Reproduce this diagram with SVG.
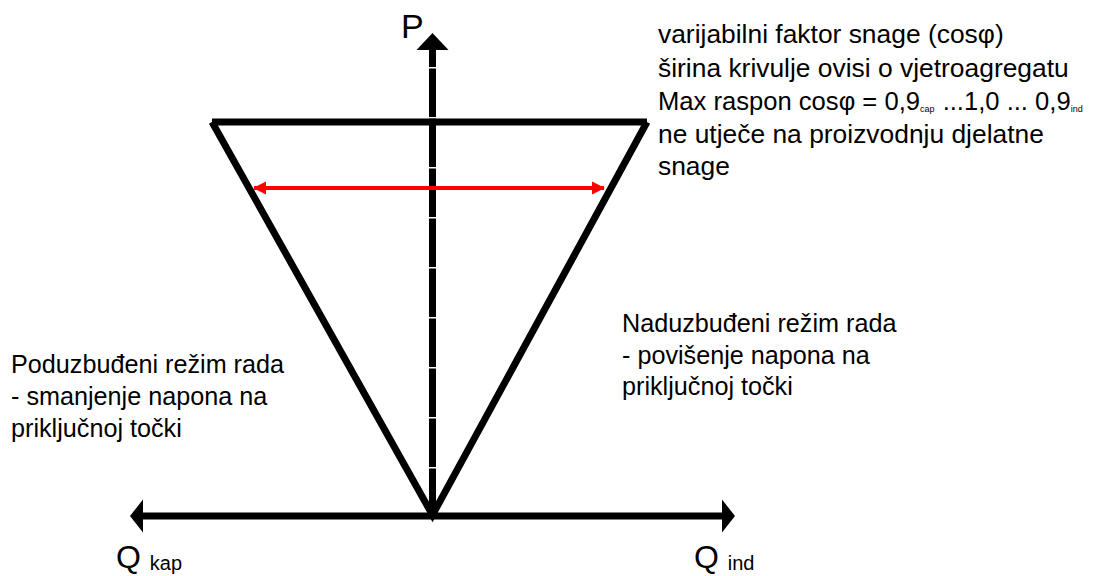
<svg xmlns="http://www.w3.org/2000/svg" width="1096" height="576" viewBox="0 0 1096 576">
  <style>
    .t { font-family: "Liberation Sans", Arial, sans-serif; fill: #000; }
    .body { font-size: 26.4px; }
    .side { font-size: 25.2px; }
    .ax { stroke: #000; stroke-width: 7; fill: none; }
  </style>
  <defs>
    <marker id="arrRed" markerUnits="userSpaceOnUse" markerWidth="14" markerHeight="14" refX="12" refY="7" orient="auto-start-reverse" viewBox="0 0 14 14">
      <path d="M0,0.5 L13,7 L0,13.5 Z" fill="#FF0000"/>
    </marker>
  </defs>
  <rect width="1096" height="576" fill="#fff"/>

  <g id="connectors">
    <!-- horizontal Q axis -->
    <line class="ax" x1="140" y1="516" x2="726" y2="516"/>
    <path d="M130,516 L143,499.5 L143,532.5 Z" fill="#000"/>
    <path d="M735,516 L722,499.5 L722,532.5 Z" fill="#000"/>
    <!-- vertical P axis (dashed with tiny gaps) -->
    <line class="ax" x1="432.5" y1="516" x2="432.5" y2="48" stroke-dasharray="48.5 1.5" stroke-dashoffset="1" stroke-width="6.5"/>
    <path d="M432.5,33 L448.5,50 L416.5,50 Z" fill="#000"/>
  </g>

  <g id="trapezoid">
    <path d="M212,122 L647,122 M212,122 L432.5,515 L647,122" stroke="#000" stroke-width="7" fill="none" stroke-linejoin="miter" stroke-linecap="butt"/>
  </g>

  <g id="range-arrow">
    <line x1="254" y1="188" x2="604" y2="188" stroke="#FF0000" stroke-width="4" marker-start="url(#arrRed)" marker-end="url(#arrRed)"/>
  </g>

  <g id="label-P">
    <text class="t" x="401" y="38" font-size="34">P</text>
  </g>
  <g id="label-Qkap">
    <text class="t" x="116" y="568" font-size="32">Q <tspan font-size="20" dy="2">kap</tspan></text>
  </g>
  <g id="label-Qind">
    <text class="t" x="694" y="568" font-size="32">Q <tspan font-size="20" dy="2">ind</tspan></text>
  </g>

  <g id="note-top">
    <text class="t body" x="658" y="43">varijabilni faktor snage (cosφ)</text>
    <text class="t body" x="658" y="76.5">širina krivulje ovisi o vjetroagregatu</text>
    <text class="t" x="658" y="110" font-size="25.6">Max raspon cosφ = 0,9<tspan font-size="9" dy="2">cap</tspan><tspan dy="-2" dx="1"> ...1,0 ... 0,9</tspan><tspan font-size="9" dy="2">ind</tspan></text>
    <text class="t body" x="658" y="143">ne utječe na proizvodnju djelatne</text>
    <text class="t body" x="658" y="175">snage</text>
  </g>

  <g id="note-left">
    <text class="t side" x="11" y="373">Poduzbuđeni režim rada</text>
    <text class="t side" x="11" y="405">- smanjenje napona na</text>
    <text class="t side" x="11" y="437">priključnoj točki</text>
  </g>

  <g id="note-right">
    <text class="t side" x="622" y="331.5">Naduzbuđeni režim rada</text>
    <text class="t side" x="622" y="363.5">- povišenje napona na</text>
    <text class="t side" x="622" y="395">priključnoj točki</text>
  </g>
</svg>
